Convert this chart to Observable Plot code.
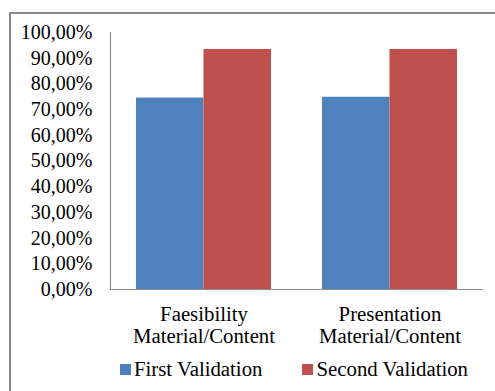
<!DOCTYPE html>
<html>
<head>
<meta charset="utf-8">
<script src="https://cdn.jsdelivr.net/npm/d3@7"></script>
<script src="https://cdn.jsdelivr.net/npm/@observablehq/plot@0.6"></script>
<style>
  html, body { margin: 0; padding: 0; background: #fff; }
  #wrap { position: relative; width: 495px; height: 391px; overflow: hidden; font-family: "Liberation Serif", "Times New Roman", serif; }
  #border { position: absolute; left: 9px; top: 12px; width: 500px; height: 400px; border-left: 2px solid #898989; border-top: 2px solid #898989; box-sizing: border-box; }
  #chart { position: absolute; left: 0; top: 0; }
  #legend { position: absolute; left: 120px; top: 357px; display: flex; align-items: center; font-size: 20.8px; color: #000; white-space: nowrap; }
  .item { display: flex; align-items: center; margin-right: 40px; }
  .sw { width: 11px; height: 11px; margin-right: 3px; }
</style>
</head>
<body>
<div id="wrap">
  <div id="border"></div>
  <div id="chart"></div>
  <div id="legend"></div>
</div>
<script>
const categories = ["Faesibility\nMaterial/Content", "Presentation\nMaterial/Content"];
const series = ["First Validation", "Second Validation"];
const firstValues = [0.745, 0.748];
const secondValues = [0.934, 0.934];
const yTicks = [0, 0.1, 0.2, 0.3, 0.4, 0.5, 0.6, 0.7, 0.8, 0.9, 1.0];
const colors = ["#4F81BD", "#C0504D"];

const first = categories.map((c, i) => ({category: c, series: series[0], value: firstValues[i]}));
const second = categories.map((c, i) => ({category: c, series: series[1], value: secondValues[i]}));

const fmt = d => (d * 100).toFixed(2).replace(".", ",") + "%";

// band of each category is 135px wide; each series occupies one half of it
const half = 67.5;

const chart = Plot.plot({
  width: 495,
  height: 350,
  marginLeft: 110,
  marginRight: 13,
  marginTop: 32,
  marginBottom: 61,
  style: {fontFamily: "Liberation Serif, Times New Roman, serif", fontSize: "20px", color: "#000", background: "transparent", overflow: "visible"},
  x: {domain: categories, paddingInner: 0.276, paddingOuter: 0.138, label: null},
  y: {domain: [0, 1], label: null},
  color: {domain: series, range: colors},
  marks: [
    Plot.barY(first, {x: "category", y: "value", fill: "series", insetRight: half}),
    Plot.barY(second, {x: "category", y: "value", fill: "series", insetLeft: half}),
    Plot.frame({anchor: "left", stroke: "#8c8c8c", strokeWidth: 1.2}),
    Plot.frame({anchor: "bottom", stroke: "#8c8c8c", strokeWidth: 1.2}),
    Plot.axisY({ticks: yTicks, tickFormat: fmt, tickSize: 0, tickPadding: 18, label: null, fontSize: 20}),
    Plot.axisX({anchor: "bottom", tickSize: 0, tickPadding: 15.5, label: null, fontSize: 20.8, lineHeight: 1.06})
  ]
});
document.getElementById("chart").appendChild(chart);

const legend = document.getElementById("legend");
series.forEach((s, i) => {
  const item = document.createElement("div");
  item.className = "item";
  const sw = document.createElement("div");
  sw.className = "sw";
  sw.style.background = colors[i];
  const t = document.createElement("span");
  t.textContent = s;
  item.appendChild(sw);
  item.appendChild(t);
  legend.appendChild(item);
});
</script>
</body>
</html>
